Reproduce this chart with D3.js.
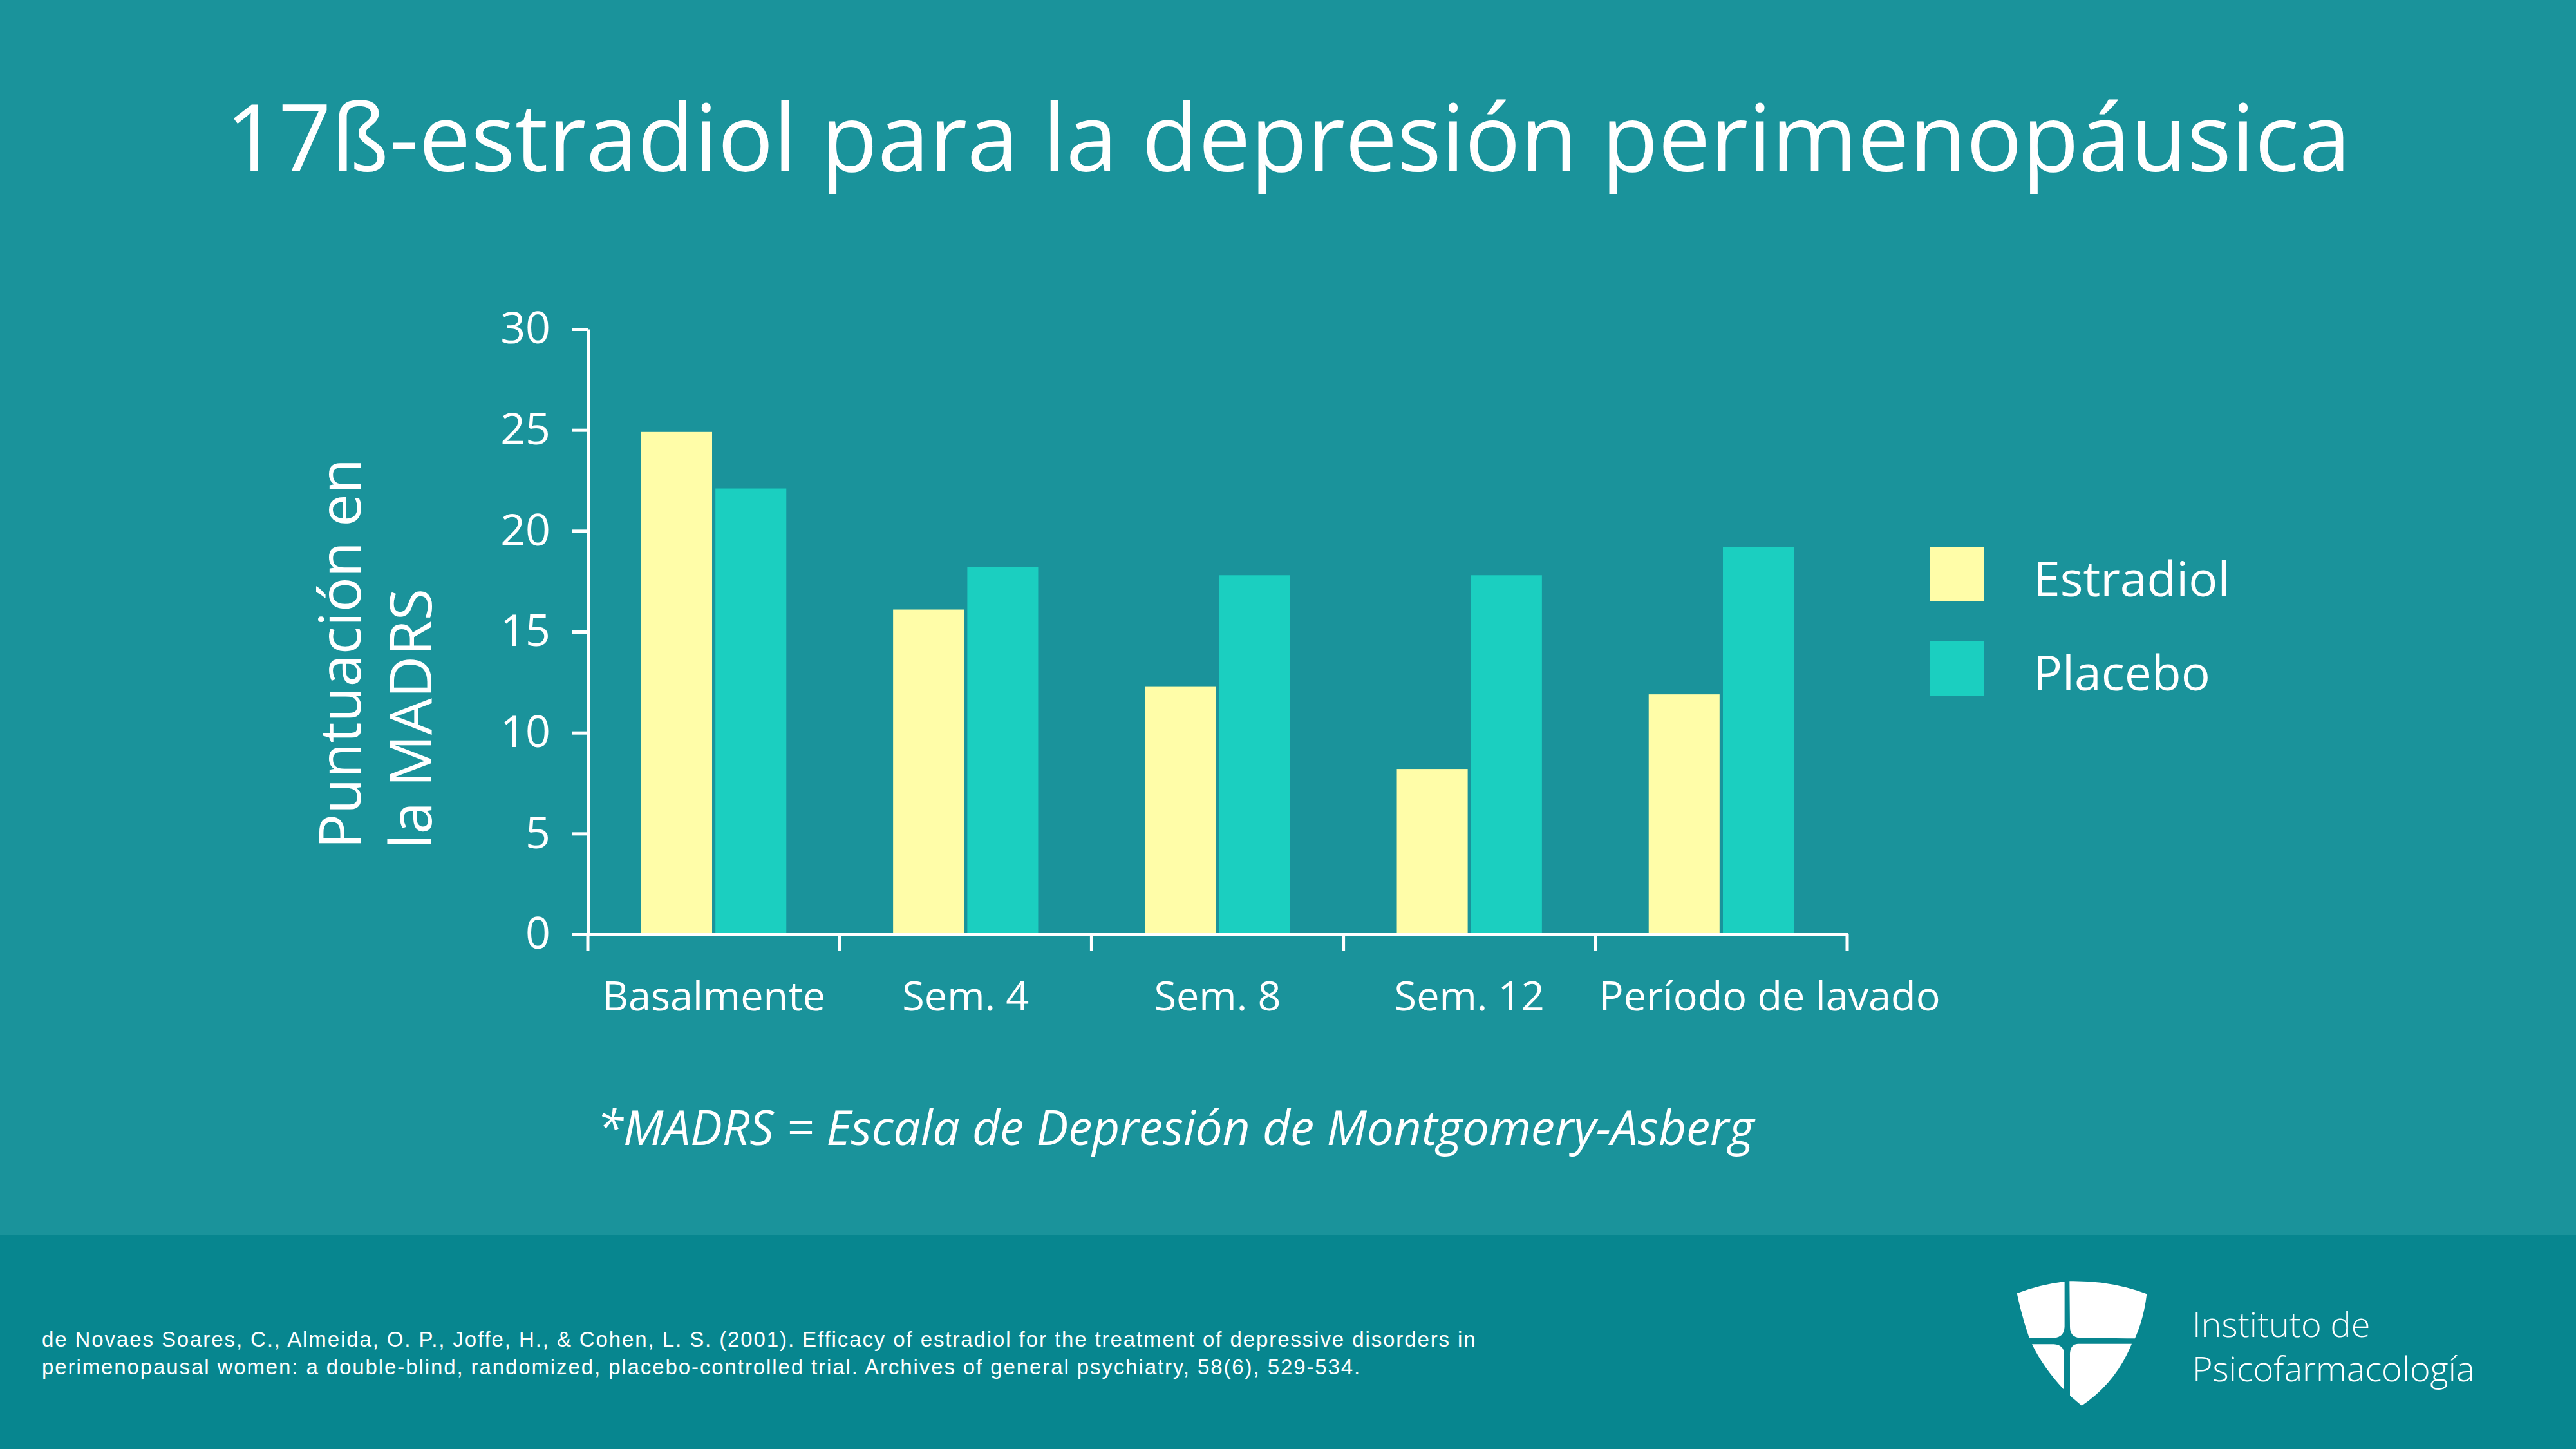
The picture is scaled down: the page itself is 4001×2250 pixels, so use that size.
<!DOCTYPE html>
<html>
<head>
<meta charset="utf-8">
<script src="https://cdn.jsdelivr.net/npm/d3@7"></script>
<style>
  body { margin: 0; background: #1a939b; }
  svg { display: block; }
</style>
</head>
<body>
<div id="chart"></div>
<script>
// chart values
const categories = ["Basalmente", "Sem. 4", "Sem. 8", "Sem. 12", "Período de lavado"];
const seriesNames = ["Estradiol", "Placebo"];
const estradiol = [24.9, 16.1, 12.3, 8.2, 11.9];
const placebo = [22.1, 18.2, 17.8, 17.8, 19.2];
const yTicks = [0, 5, 10, 15, 20, 25, 30];
const seriesColors = ["#fffda8", "#1bcfc0"];

const W = 4001, H = 2250;
const font = "'Open Sans', 'Noto Sans', sans-serif";

const svg = d3.select("#chart")
  .append("svg")
  .attr("id", "chart_svg")
  .attr("width", W)
  .attr("height", H);

// background + footer band
svg.append("rect").attr("width", W).attr("height", H).attr("fill", "#1a939b");
svg.append("rect").attr("y", 1917).attr("width", W).attr("height", H - 1917).attr("fill", "#07868f");

// title
svg.append("text")
  .attr("x", W / 2)
  .attr("y", 266)
  .attr("text-anchor", "middle")
  .style("font-family", font)
  .style("font-size", "144px")
  .style("fill", "#fff")
  .text("17ß-estradiol para la depresión perimenopáusica");

build_bars();
build_legend();
build_footer();

function build_bars() {
  const left = 913, right = 2869, top = 511, bottom = 1451;

  const x0 = d3.scaleBand().domain(categories).range([left, right]).padding(0);
  const bw = x0.bandwidth();
  const x1 = d3.scaleBand()
    .domain(seriesNames)
    .range([bw * 0.212, bw * 0.788])
    .paddingInner(0.045);
  const y = d3.scaleLinear().domain([0, 30]).range([bottom, top]);
  const color = d3.scaleOrdinal().domain(seriesNames).range(seriesColors);

  const rows = categories.map((c, i) => ({ cat: c, values: [estradiol[i], placebo[i]] }));

  // bars
  svg.append("g")
    .selectAll("g")
    .data(rows)
    .join("g")
    .attr("transform", (d) => "translate(" + x0(d.cat) + ",0)")
    .selectAll("rect")
    .data((d) => seriesNames.map((s, j) => ({ key: s, value: d.values[j] })))
    .join("rect")
    .attr("x", (d) => x1(d.key))
    .attr("y", (d) => y(d.value))
    .attr("width", x1.bandwidth())
    .attr("height", (d) => y(0) - y(d.value))
    .attr("fill", (d) => color(d.key));

  // y axis
  const yAxis = svg.append("g")
    .attr("transform", "translate(" + left + ",0)")
    .call(d3.axisLeft(y).tickValues(yTicks).tickSize(24).tickSizeOuter(0).tickPadding(34));
  yAxis.selectAll("path, line").attr("stroke", "#fff").attr("stroke-width", 5);
  yAxis.selectAll("text")
    .style("font-family", font)
    .style("font-size", "68px")
    .style("fill", "#fff");

  // x axis: labels from d3 axis, ticks on band edges
  const xAxis = svg.append("g")
    .attr("transform", "translate(0," + bottom + ")")
    .call(d3.axisBottom(x0).tickSize(0).tickPadding(73));
  xAxis.select(".domain").remove();
  xAxis.selectAll("text")
    .style("font-family", font)
    .style("font-size", "63px")
    .style("fill", "#fff");
  // the last label is wider than its band: start it at the band edge
  xAxis.selectAll(".tick")
    .filter((d) => d === "Período de lavado")
    .select("text")
    .attr("text-anchor", "start")
    .attr("x", -bw / 2 + 6);

  const edges = categories.map((c) => x0(c)).concat([right]);
  svg.append("line")
    .attr("x1", left - 2).attr("x2", right + 2)
    .attr("y1", bottom).attr("y2", bottom)
    .attr("stroke", "#fff").attr("stroke-width", 5);
  svg.append("g")
    .selectAll("line")
    .data(edges)
    .join("line")
    .attr("x1", (d) => d).attr("x2", (d) => d)
    .attr("y1", bottom).attr("y2", bottom + 26)
    .attr("stroke", "#fff").attr("stroke-width", 5);

  // y axis title, two rotated lines
  const yTitle = ["Puntuación en", "la MADRS"];
  svg.append("g")
    .selectAll("text")
    .data(yTitle)
    .join("text")
    .attr("transform", (d, i) => "translate(" + (560 + i * 110) + ",1318) rotate(-90)")
    .attr("text-anchor", "start")
    .style("font-family", font)
    .style("font-size", "90px")
    .style("fill", "#fff")
    .text((d) => d);

  // note under the chart
  svg.append("text")
    .attr("x", 927)
    .attr("y", 1778)
    .style("font-family", font)
    .style("font-style", "italic")
    .style("font-size", "74.5px")
    .style("fill", "#fff")
    .text("*MADRS = Escala de Depresión de Montgomery-Asberg");
}

function build_legend() {
  const lg = svg.append("g").attr("transform", "translate(2998,850)");
  const item = lg.selectAll("g")
    .data(seriesNames)
    .join("g")
    .attr("transform", (d, i) => "translate(0," + i * 146 + ")");
  item.append("rect")
    .attr("width", 84)
    .attr("height", 84)
    .attr("fill", (d, i) => seriesColors[i]);
  item.append("text")
    .attr("x", 160)
    .attr("y", 76)
    .style("font-family", font)
    .style("font-size", "75px")
    .style("fill", "#fff")
    .text((d) => d);
}

function build_footer() {
  const ref = [
    "de Novaes Soares, C., Almeida, O. P., Joffe, H., & Cohen, L. S. (2001). Efficacy of estradiol for the treatment of depressive disorders in",
    "perimenopausal women: a double-blind, randomized, placebo-controlled trial. Archives of general psychiatry, 58(6), 529-534."
  ];
  svg.append("g")
    .selectAll("text")
    .data(ref)
    .join("text")
    .attr("x", 65)
    .attr("y", (d, i) => 2091 + i * 43)
    .style("font-family", "'Liberation Sans', Arial, sans-serif")
    .style("font-size", "33px")
    .style("letter-spacing", "1.9px")
    .style("fill", "#fff")
    .text((d) => d);

  // shield logo
  const logo = svg.append("g")
    .attr("transform", "translate(3100,1960) scale(0.3333)")
    .attr("fill", "#fff");
  const pieces = [
    "M98,145 Q200,105 320,90 L320,300 Q318,350 270,352 L155,352 Q120,250 98,145 Z",
    "M343,88 Q540,85 703,148 Q690,260 648,355 L392,352 Q345,350 345,300 Z",
    "M168,382 L270,382 Q318,385 318,430 L318,595 Q220,490 168,382 Z",
    "M382,380 L633,380 Q560,560 400,668 L345,622 L345,430 Q345,382 382,380 Z"
  ];
  logo.selectAll("path").data(pieces).join("path").attr("d", (d) => d);

  svg.append("g")
    .selectAll("text")
    .data(["Instituto de", "Psicofarmacología"])
    .join("text")
    .attr("x", 3405)
    .attr("y", (d, i) => 2076 + i * 69)
    .style("font-family", font)
    .style("font-weight", 300)
    .style("font-size", "54px")
    .style("fill", "#fff")
    .text((d) => d);
}
</script>
</body>
</html>
